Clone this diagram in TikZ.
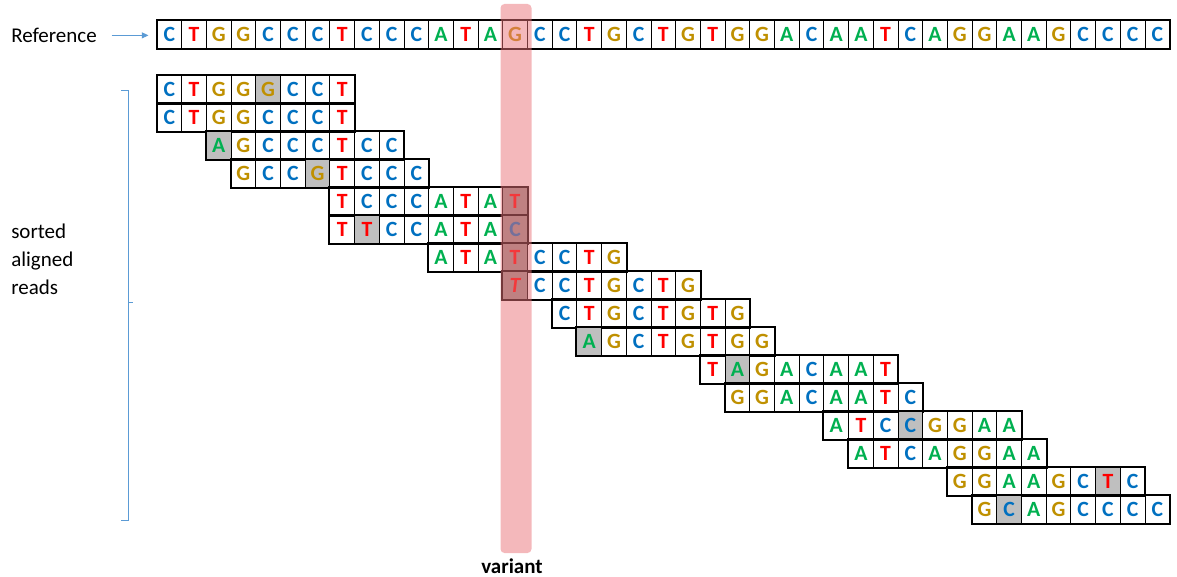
\documentclass[tikz,border=0pt]{standalone}
\usepackage{fontspec}
\setmainfont{Carlito}
\usetikzlibrary{arrows.meta}
\definecolor{cC}{RGB}{0,112,192}
\definecolor{cT}{RGB}{255,0,0}
\definecolor{cG}{RGB}{191,144,0}
\definecolor{cA}{RGB}{0,176,80}
\definecolor{hl}{RGB}{191,191,191}
\definecolor{vg}{RGB}{150,146,142}
\definecolor{barpink}{RGB}{233,113,119}
\definecolor{brkblue}{RGB}{91,155,213}
\newcommand\myread[3]{%
  \foreach \l [count=\i from 0] in {#3} {
    \node (rd#1-\i) at ({156.5+24.7*(#2+\i)},{75+28*(#1-1)}) [cell,\l];
  }
  \draw[outline] (rd#1-0.north west) rectangle (rd#1-7.south east);
}
\begin{document}
\begin{tikzpicture}[x=0.75pt,y=-0.75pt,
  cell/.style={draw=black, line width=0.7pt, minimum width=18.525pt, minimum height=21pt,
    inner sep=0pt, anchor=north west, text height=10.6pt, text depth=0pt,
    font=\bfseries\fontsize{16.3pt}{19pt}\selectfont},
  outline/.style={line width=1.5pt, black},
  bC/.style={text=cC, node contents=C},
  bT/.style={text=cT, node contents=T},
  bG/.style={text=cG, node contents=G},
  bA/.style={text=cA, node contents=A},
  hC/.style={fill=hl, bC}, hT/.style={fill=hl, bT},
  hG/.style={fill=hl, bG}, hA/.style={fill=hl, bA},
  vT/.style={fill=vg, bT}, vC/.style={fill=vg, bC},
  viT/.style={text=cT, fill=vg, node contents=\itshape T},
  lbl/.style={font=\fontsize{15.75pt}{21pt}\selectfont, inner sep=0pt},
  brk/.style={draw=brkblue, line width=0.75pt}]
\useasboundingbox (0,0) rectangle (1177,577);
% reference row
\foreach \l [count=\i from 0] in {bC,bT,bG,bG,bC,bC,bC,bT,bC,bC,bC,bA,bT,bA,bG,bC,bC,bT,bG,bC,bT,bG,bT,bG,bG,bA,bC,bA,bA,bT,bC,bA,bG,bG,bA,bA,bG,bC,bC,bC,bC} {
  \node (ref-\i) at ({156.5+24.7*\i},20) [cell,\l];
}
\draw[outline] (ref-0.north west) rectangle (ref-40.south east);
% reads
\myread{1}{0}{bC,bT,bG,bG,hG,bC,bC,bT}
\myread{2}{0}{bC,bT,bG,bG,bC,bC,bC,bT}
\myread{3}{2}{hA,bG,bC,bC,bC,bT,bC,bC}
\myread{4}{3}{bG,bC,bC,hG,bT,bC,bC,bC}
\myread{5}{7}{bT,bC,bC,bC,bA,bT,bA,vT}
\myread{6}{7}{bT,hT,bC,bC,bA,bT,bA,vC}
\myread{7}{11}{bA,bT,bA,vT,bC,bC,bT,bG}
\myread{8}{14}{viT,bC,bC,bT,bG,bC,bT,bG}
\myread{9}{16}{bC,bT,bG,bC,bT,bG,bT,bG}
\myread{10}{17}{hA,bG,bC,bT,bG,bT,bG,bG}
\myread{11}{22}{bT,hA,bG,bA,bC,bA,bA,bT}
\myread{12}{23}{bG,bG,bA,bC,bA,bA,bT,bC}
\myread{13}{27}{bA,bT,bC,hC,bG,bG,bA,bA}
\myread{14}{28}{bA,bT,bC,bA,bG,bG,bA,bA}
\myread{15}{32}{bG,bG,bA,bA,bG,bC,hT,bC}
\myread{16}{33}{bG,hC,bA,bG,bC,bC,bC,bC}
% variant bar
\fill[barpink, opacity=0.5, rounded corners=3pt] (500.5,4) rectangle (531.5,553);
\node[lbl, font=\bfseries\fontsize{15.75pt}{21pt}\selectfont] (var) at (512,566) {variant};
% labels
\node[lbl, anchor=base west] (reflabel) at (11,42.5) {Reference};
\draw[brk, -{Triangle[length=5pt,width=4.5pt]}, shorten <=11pt, shorten >=6pt] (reflabel.east) -- (ref-0.west |- reflabel.east);
\node[lbl, anchor=west, align=left] (sar) at (11,259) {sorted\\aligned\\reads};
\coordinate (bt) at (128,91);
\coordinate (bb) at (128,520);
\draw[brk] ([xshift=-5]bt) -- (bt) -- (bb) -- ([xshift=-5]bb);
\draw[brk] (128,302) -- (133,302);
\end{tikzpicture}
\end{document}
